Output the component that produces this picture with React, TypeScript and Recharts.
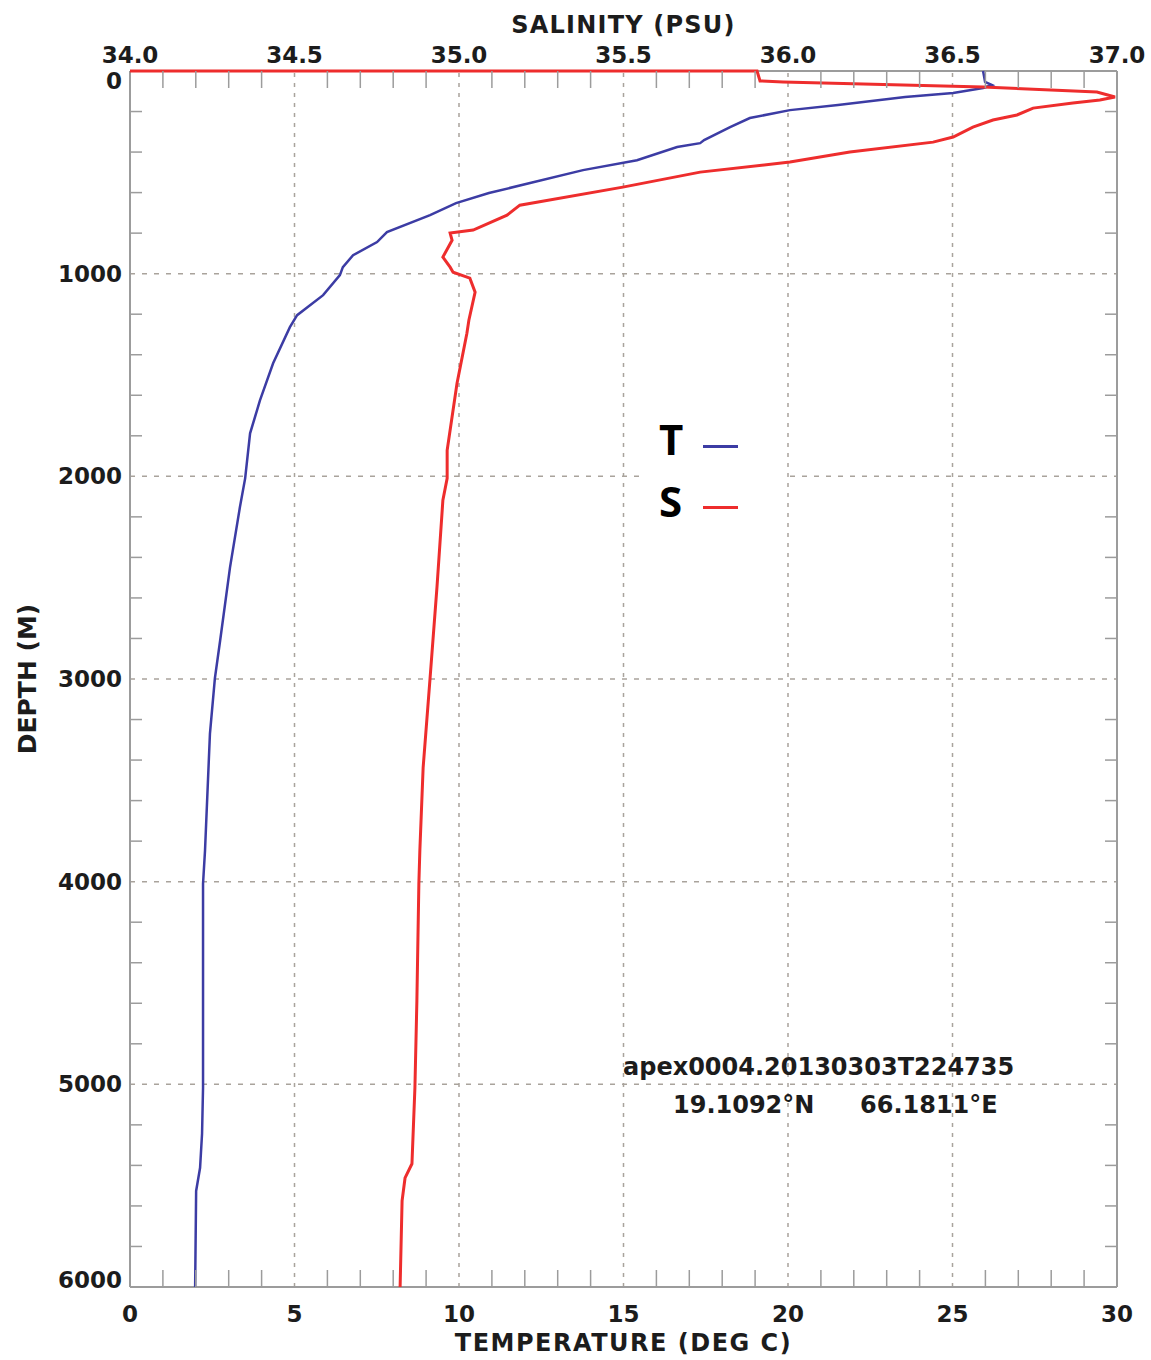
import { Legend, ReferenceLine, Scatter, ScatterChart, XAxis, YAxis } from 'recharts'

const W = 1151
const H = 1360
const FRAME = '#9c9c9c'
const GRID = '#a9a39c'
const BLUE = '#3c3ca4'
const RED = '#ee2d2d'
const INK = '#1c1c1c'
const FONT = '"DejaVu Sans", sans-serif'

// temperature profile (depth m, deg C)
const tempDepth = [
  0, 54, 69, 84, 109, 128, 168, 193, 232, 277, 341, 356, 375, 440, 489, 553, 602, 652, 711, 795,
  844, 909, 968, 1007, 1106, 1205, 1264, 1442, 1625, 1788, 2010, 2153, 2449, 2810, 2997, 3269,
  3847, 4010, 4637, 5017, 5244, 5412, 5526, 6000,
]
const tempValues = [
  25.93, 25.99, 26.2, 25.93, 25.02, 23.56, 21.52, 20.06, 18.84, 18.24, 17.45, 17.33, 16.63, 15.41,
  13.77, 12.16, 10.91, 9.91, 9.12, 7.81, 7.51, 6.78, 6.47, 6.38, 5.87, 5.08, 4.86, 4.35, 3.95, 3.65,
  3.5, 3.34, 3.04, 2.74, 2.58, 2.43, 2.28, 2.22, 2.22, 2.22, 2.19, 2.13, 2.01, 1.98,
]

// salinity profile (depth m, PSU)
const salDepth = [
  0, 0, 49, 54, 79, 104, 128, 143, 158, 183, 217, 242, 277, 326, 351, 400, 449, 499, 573, 662, 711,
  785, 800, 835, 918, 968, 993, 1022, 1091, 1230, 1294, 1541, 1872, 2010, 2118, 2548, 2997, 3437,
  3847, 4010, 4587, 5017, 5392, 5462, 5575, 6000,
]
const salValues = [
  34.0, 35.906, 35.915, 35.985, 36.593, 36.939, 36.994, 36.948, 36.866, 36.745, 36.696, 36.623,
  36.562, 36.502, 36.441, 36.188, 36.006, 35.733, 35.498, 35.185, 35.146, 35.043, 34.973, 34.979,
  34.951, 34.973, 34.982, 35.033, 35.049, 35.03, 35.024, 34.994, 34.964, 34.964, 34.951, 34.933,
  34.912, 34.891, 34.881, 34.878, 34.872, 34.866, 34.857, 34.836, 34.827, 34.821,
]

const seriesNames = ['T', 'S']
const tempTickLabels = [0, 5, 10, 15, 20, 25, 30]
const salTickLabels = ['34.0', '34.5', '35.0', '35.5', '36.0', '36.5', '37.0']
const depthTickLabels = [0, 1000, 2000, 3000, 4000, 5000, 6000]
const gridTemps = [5, 10, 15, 20, 25]
const gridDepths = [1000, 2000, 3000, 4000, 5000]

const tempData = tempDepth.map((d, i) => ({ d, t: tempValues[i] }))
const salData = salDepth.map((d, i) => ({ d, s: salValues[i] }))

// minor tick positions (1 deg / 0.1 psu / 200 m)
const tempTicks = Array.from({ length: 31 }, (_, i) => i)
const salTicks = Array.from({ length: 31 }, (_, i) => +(34 + i / 10).toFixed(1))
const depthTicks = Array.from({ length: 31 }, (_, i) => i * 200)

const tickText = { fontFamily: FONT, fontWeight: 700, fontSize: 23, fill: INK }
const titleStyle = { fontFamily: FONT, fontWeight: 700, fontSize: 24, fill: INK }

function TempTick({ x, y, payload }: any) {
  const v = payload.value
  if (tempTickLabels.includes(v)) {
    return (
      <text x={x} y={y + 35} textAnchor="middle" style={tickText}>
        {v}
      </text>
    )
  }
  return <line x1={x} x2={x} y1={y} y2={y - 17} stroke={FRAME} strokeWidth={1.5} />
}

function SalTick({ x, y, payload }: any) {
  const label = Number(payload.value).toFixed(1)
  if (salTickLabels.includes(label)) {
    return (
      <text x={x} y={y - 8} textAnchor="middle" style={tickText}>
        {label}
      </text>
    )
  }
  return <line x1={x} x2={x} y1={y} y2={y + 17} stroke={FRAME} strokeWidth={1.5} />
}

function DepthTick({ x, y, payload }: any) {
  const v = payload.value
  if (depthTickLabels.includes(v)) {
    const shift = v === 0 ? 10 : v === 6000 ? -7 : 0
    return (
      <text x={x - 8} y={y + shift + 8} textAnchor="end" style={tickText}>
        {v}
      </text>
    )
  }
  return <line x1={x} x2={x + 12} y1={y} y2={y} stroke={FRAME} strokeWidth={1.5} />
}

function RightTick({ x, y, payload }: any) {
  if (depthTickLabels.includes(payload.value)) return <g />
  return <line x1={x} x2={x - 12} y1={y} y2={y} stroke={FRAME} strokeWidth={1.5} />
}

function NoDot() {
  return <g />
}

function LegendBox({ payload }: any) {
  const items = [...(payload ?? [])].sort(
    (a: any, b: any) => seriesNames.indexOf(a.value) - seriesNames.indexOf(b.value),
  )
  return (
    <div style={{ position: 'relative', width: 146, height: 138, background: '#fff' }}>
      {items.map((p: any, i: number) => (
        <div key={p.value}>
          <span
            style={{
              position: 'absolute',
              left: 19,
              top: 13 + i * 62,
              fontFamily: '"Open Sans", sans-serif',
              fontWeight: 700,
              fontSize: 42,
              lineHeight: '42px',
              color: '#000',
            }}
          >
            {p.value}
          </span>
          <span
            style={{
              position: 'absolute',
              left: 63,
              top: 40 + i * 61,
              width: 35,
              height: 3,
              background: p.color,
            }}
          />
        </div>
      ))}
    </div>
  )
}

const noteStyle = {
  position: 'absolute' as const,
  fontFamily: FONT,
  fontWeight: 700,
  fontSize: 24,
  lineHeight: '24px',
  color: INK,
  whiteSpace: 'nowrap' as const,
}

export default function App() {
  return (
    <div style={{ position: 'relative', width: W, height: H, background: '#fff' }}>
      <style>{'body{margin:0}'}</style>
      <ScatterChart width={W} height={H} margin={{ top: 0, right: 24, bottom: 0, left: 0 }}>
        <XAxis
          xAxisId="temp"
          dataKey="t"
          type="number"
          orientation="bottom"
          domain={[0, 30]}
          ticks={tempTicks}
          interval={0}
          height={73}
          tickSize={0}
          tickMargin={0}
          tickLine={false}
          axisLine={{ stroke: FRAME, strokeWidth: 2 }}
          tick={<TempTick />}
          label={{
            value: 'TEMPERATURE (DEG C)',
            position: 'insideBottom',
            offset: 9,
            style: { ...titleStyle, letterSpacing: 1.5 },
          }}
        />
        <XAxis
          xAxisId="sal"
          dataKey="s"
          type="number"
          orientation="top"
          domain={[34, 37]}
          ticks={salTicks}
          interval={0}
          height={71}
          tickSize={0}
          tickMargin={0}
          tickLine={false}
          axisLine={{ stroke: FRAME, strokeWidth: 2 }}
          tick={<SalTick />}
          label={{
            value: 'SALINITY (PSU)',
            position: 'insideTop',
            offset: 16,
            style: { ...titleStyle, letterSpacing: 1.2 },
          }}
        />
        <YAxis
          yAxisId="depth"
          dataKey="d"
          type="number"
          orientation="left"
          reversed
          domain={[0, 6000]}
          ticks={depthTicks}
          interval={0}
          width={130}
          tickSize={0}
          tickMargin={0}
          tickLine={false}
          axisLine={{ stroke: FRAME, strokeWidth: 2 }}
          tick={<DepthTick />}
          label={{
            value: 'DEPTH (M)',
            angle: -90,
            position: 'insideLeft',
            offset: 27,
            style: { ...titleStyle, fontSize: 25, textAnchor: 'middle' },
          }}
        />
        <YAxis
          yAxisId="right"
          dataKey="d"
          type="number"
          orientation="right"
          reversed
          domain={[0, 6000]}
          allowDataOverflow
          ticks={depthTicks}
          interval={0}
          width={10}
          tickSize={0}
          tickMargin={0}
          tickLine={false}
          axisLine={{ stroke: FRAME, strokeWidth: 2 }}
          tick={<RightTick />}
        />
        {gridTemps.map((v) => (
          <ReferenceLine
            key={`gx${v}`}
            x={v}
            xAxisId="temp"
            yAxisId="depth"
            stroke={GRID}
            strokeWidth={1.5}
            strokeDasharray="4 6"
          />
        ))}
        {gridDepths.map((v) => (
          <ReferenceLine
            key={`gy${v}`}
            y={v}
            xAxisId="temp"
            yAxisId="depth"
            stroke={GRID}
            strokeWidth={1.5}
            strokeDasharray="5 7"
          />
        ))}
        <Legend
          layout="vertical"
          align="center"
          verticalAlign="middle"
          content={<LegendBox />}
          wrapperStyle={{ left: 640, top: 405, width: 146 }}
        />
        <Scatter
          name="T"
          data={tempData}
          xAxisId="temp"
          yAxisId="depth"
          fill={BLUE}
          line={{ stroke: BLUE, strokeWidth: 2.5 }}
          lineType="joint"
          shape={<NoDot />}
          isAnimationActive={false}
        />
        <Scatter
          name="S"
          data={salData}
          xAxisId="sal"
          yAxisId="depth"
          fill={RED}
          line={{ stroke: RED, strokeWidth: 3 }}
          lineType="joint"
          shape={<NoDot />}
          isAnimationActive={false}
        />
      </ScatterChart>
      <div style={{ ...noteStyle, left: 623, top: 1055 }}>apex0004.20130303T224735</div>
      <div style={{ ...noteStyle, left: 673, top: 1093 }}>19.1092°N</div>
      <div style={{ ...noteStyle, left: 860, top: 1093 }}>66.1811°E</div>
    </div>
  )
}
